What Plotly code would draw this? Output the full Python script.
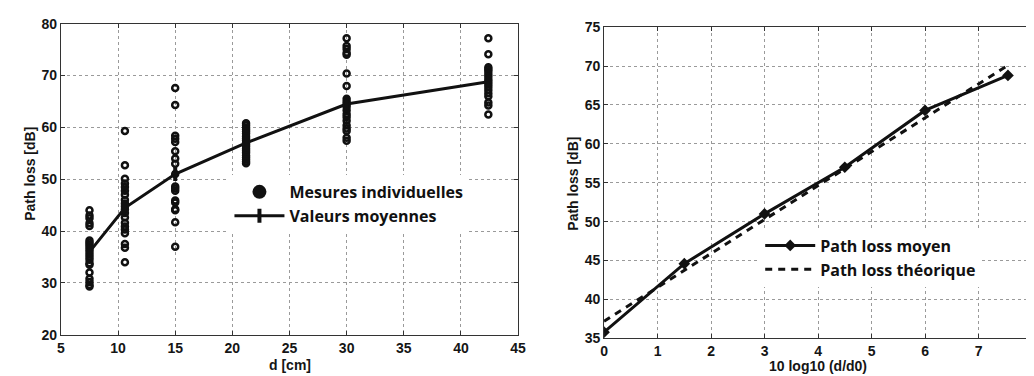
import plotly.graph_objects as go

# ---------------- Data: left panel ----------------
d_cm = [7.5, 10.6, 15.0, 21.2, 30.0, 42.4]

meas_7_5 = [44.0, 43.0, 42.5, 41.5, 41.0, 38.2, 37.8, 37.4, 37.0, 36.5, 36.0, 35.5,
            35.0, 34.5, 33.8, 33.5, 32.0, 30.8, 30.2, 29.6, 29.3]
meas_10_6 = [59.3, 52.7, 50.1, 49.2, 48.5, 47.8, 47.0, 46.0, 45.3, 44.8, 44.2, 43.5,
             42.6, 41.6, 40.9, 40.3, 39.6, 37.5, 36.8, 34.0]
meas_15 = [67.6, 64.3, 58.4, 57.8, 57.2, 55.4, 54.0, 53.0, 51.0, 48.6, 48.2, 47.8,
           45.9, 45.5, 44.2, 44.0, 41.7, 37.0]
meas_21_2 = [60.8, 60.4, 60.0, 59.6, 59.2, 58.8, 58.3, 57.9, 57.5, 57.1, 56.7, 56.3,
             55.9, 55.5, 55.1, 54.6, 54.2, 53.8, 53.4, 53.1]
meas_30 = [77.2, 75.7, 75.1, 74.4, 74.0, 70.4, 68.0, 65.5, 65.0, 64.5, 64.0, 63.3,
           62.6, 62.0, 61.3, 60.4, 59.8, 59.3, 58.0, 57.4]
meas_42_4 = [77.2, 74.1, 71.6, 71.2, 70.8, 70.3, 69.8, 69.3, 68.8, 68.3, 67.8, 67.2,
             66.6, 66.0, 64.8, 64.2, 62.5]
measures = [meas_7_5, meas_10_6, meas_15, meas_21_2, meas_30, meas_42_4]

mean_pl = [36.0, 44.5, 51.0, 57.0, 64.5, 68.8]

# ---------------- Data: right panel ----------------
log_d = [0.0, 1.5, 3.0, 4.5, 6.0, 7.55]
mean_pl_log = [35.8, 44.6, 51.0, 57.0, 64.3, 68.8]
theo_x = [0.0, 7.55]
theo_pl = [37.2, 70.1]

left_xticks = [5, 10, 15, 20, 25, 30, 35, 40, 45]
left_yticks = [20, 30, 40, 50, 60, 70, 80]
right_xticks = [0, 1, 2, 3, 4, 5, 6, 7, 8]
right_yticks = [35, 40, 45, 50, 55, 60, 65, 70, 75]

W, H = 1034, 376
BLACK = "#111111"

fig = go.Figure()

# scatter points
sx, sy = [], []
for d, vals in zip(d_cm, measures):
    sx += [d] * len(vals)
    sy += vals
fig.add_trace(go.Scatter(
    x=sx, y=sy, mode="markers", xaxis="x", yaxis="y",
    marker=dict(symbol="circle-open", size=6, color=BLACK, line=dict(width=2.5, color=BLACK)),
    showlegend=False, hoverinfo="skip"))
# legend proxy for individual measures
fig.add_trace(go.Scatter(
    x=[None], y=[None], mode="markers", xaxis="x", yaxis="y",
    name="Mesures individuelles", legend="legend",
    marker=dict(symbol="circle", size=14, color=BLACK)))
# mean line
fig.add_trace(go.Scatter(
    x=d_cm, y=mean_pl, mode="lines+markers", xaxis="x", yaxis="y",
    name="Valeurs moyennes", legend="legend",
    line=dict(color=BLACK, width=3),
    marker=dict(symbol="line-ns-open", size=10, color=BLACK, line=dict(width=4, color=BLACK))))

# right panel
fig.add_trace(go.Scatter(
    x=log_d, y=mean_pl_log, mode="lines+markers", xaxis="x2", yaxis="y2",
    name="Path loss moyen", legend="legend2",
    line=dict(color=BLACK, width=3),
    marker=dict(symbol="diamond", size=9, color=BLACK)))
fig.add_trace(go.Scatter(
    x=theo_x, y=theo_pl, mode="lines", xaxis="x2", yaxis="y2",
    name="Path loss théorique", legend="legend2",
    line=dict(color=BLACK, width=3, dash="7px,6px")))

tickfont = dict(family="Liberation Sans, Arial", size=14, color="#151515", weight="bold")
titlefont = dict(family="Liberation Sans, Arial", size=14, color="#151515", weight="bold")
common = dict(
    showgrid=True, gridcolor="#9a9a9a", griddash="dot", gridwidth=1,
    showline=True, linecolor="#333333", linewidth=1, mirror="ticks",
    ticks="inside", ticklen=4, tickcolor="#333333",
    zeroline=False, tickfont=tickfont,
)

def px(xp):
    return xp / W

def py(yp):
    return 1 - yp / H

legend_font = dict(family="Open Sans", size=16, color=BLACK, weight="bold")

fig.update_layout(
    width=W, height=H,
    margin=dict(l=0, r=0, t=0, b=0),
    paper_bgcolor="white", plot_bgcolor="white",
    xaxis=dict(domain=[px(49.5), px(512)], range=[5, 45], tickvals=left_xticks,
               anchor="y", **common),
    yaxis=dict(domain=[py(333), py(8)], range=[20, 80], tickvals=left_yticks,
               anchor="x", **common),
    xaxis2=dict(domain=[px(599), px(1032)], range=[0, 8], tickvals=right_xticks,
                anchor="y2", **common),
    yaxis2=dict(domain=[py(336.7), py(11.7)], range=[35, 75], tickvals=right_yticks,
                anchor="x2", **common),
    legend=dict(x=px(220), y=py(166), xanchor="left", yanchor="top",
                bgcolor="white", borderwidth=0, itemwidth=50, tracegroupgap=0,
                font=legend_font),
    legend2=dict(x=px(757), y=py(222), xanchor="left", yanchor="top",
                 bgcolor="white", borderwidth=0, itemwidth=50, tracegroupgap=0,
                 font=legend_font),
    annotations=[
        dict(text="Path loss [dB]", x=px(18), y=py(165), xref="paper", yref="paper",
             textangle=-90, showarrow=False, font=titlefont, xanchor="center", yanchor="middle"),
        dict(text="d [cm]", x=px(281), y=py(364), xref="paper", yref="paper",
             showarrow=False, font=titlefont, xanchor="center", yanchor="middle"),
        dict(text="10 log10 (d/d0)", x=px(815), y=py(366), xref="paper", yref="paper",
             showarrow=False, font=titlefont, xanchor="center", yanchor="middle"),
        dict(text="Path loss [dB]", x=px(566.7), y=py(175), xref="paper", yref="paper",
             textangle=-90, showarrow=False, font=titlefont, xanchor="center", yanchor="middle"),
    ],
)

fig.write_html("out.html")
